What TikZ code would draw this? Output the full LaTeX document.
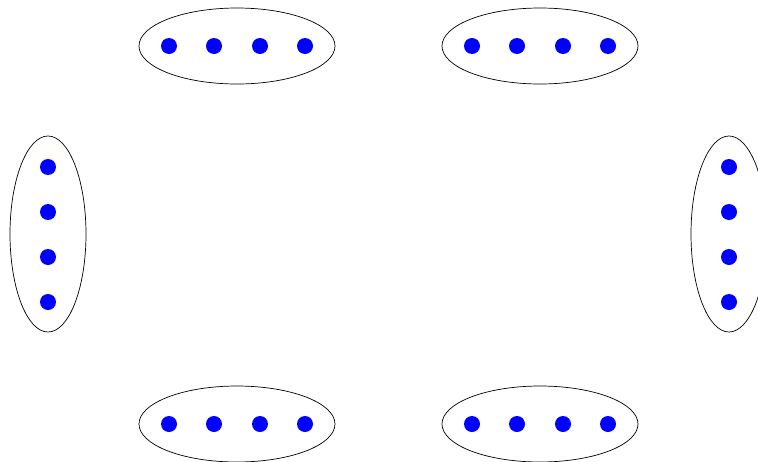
\documentclass[tikz,border=0pt]{standalone}
\begin{document}
\begin{tikzpicture}[x=1pt,y=-1pt,
  grp/.style={draw=black,line width=0.7pt},
  dot/.style={circle,fill=blue,inner sep=0pt,minimum size=16pt}]
\useasboundingbox (0,0) rectangle (758,461);
% horizontal groups
\foreach \cx/\cy/\n in {237/46/ta,540/46/tb,237/424/ba,540/424/bb}{
  \draw[grp] (\cx,\cy) ellipse [x radius=98, y radius=38];
  \foreach \dx [count=\i] in {-68,-23,23,68}{
    \node[dot] (\n\i) at (\cx+\dx,\cy) {};
  }
}
% vertical groups
\foreach \cx/\cy/\n in {48/234/la,729/234/ra}{
  \draw[grp] (\cx,\cy) ellipse [x radius=38, y radius=98];
  \foreach \dy [count=\i] in {-67,-22,23,68}{
    \node[dot] (\n\i) at (\cx,\cy+\dy) {};
  }
}
\end{tikzpicture}
\end{document}
